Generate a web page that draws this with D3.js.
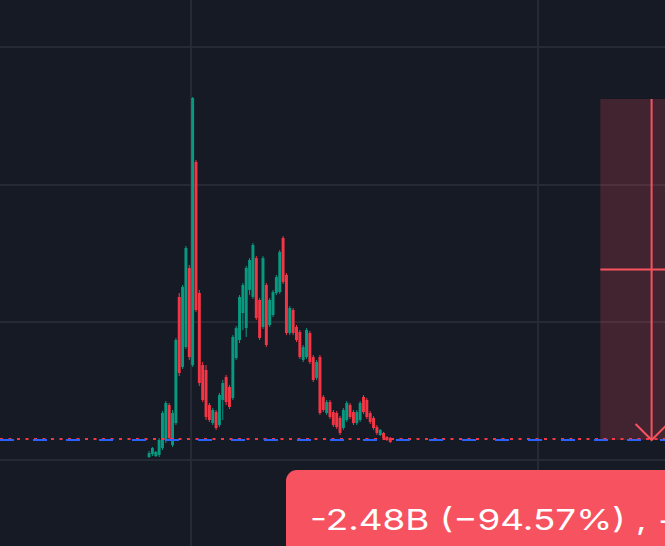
<!DOCTYPE html>
<html><head><meta charset="utf-8">
<script src="https://cdn.jsdelivr.net/npm/d3@7"></script>
<style>html,body{margin:0;padding:0;background:#161a25;overflow:hidden}</style>
</head><body><svg id="c" width="665" height="546"></svg>
<script>
// ---- data (prices in billions) ----
const opens  = [.018,.040,.025,.033,.084,.142,.396,.105,.265,1.182, .673,.818,1.393,.687,2.164,1.211,.687,.651,.396,.265, .345,.251,.433,.600,.527,.447,.738,.869,1.065,.956, 1.233,1.182,1.465,1.160,.964,1.269,.978,1.051,1.211,1.218, 1.611,1.342,.920,1.087,.964,.927,.724,.745,.920,.745, .593,.745,.455,.338,.418,.345,.338,.302,.229,.287, .396,.345,.265,.287,.455,.433,.338,.302,.236,.178, .193,.164,.156];
const highs  = [.062,.091,.062,.156,.353,.425,.411,.360,.884,1.211, 1.269,1.553,1.415,2.636,2.178,1.233,.709,.687,.411,.375, .360,.484,.578,.615,.542,.905,.971,1.196,1.284,1.407, 1.465,1.575,1.480,1.175,1.480,1.284,1.175,1.233,1.342,1.524, 1.625,1.356,1.116,1.102,.978,.942,.833,.956,.935,.760, .724,.760,.469,.433,.433,.360,.353,.316,.375,.425, .411,.360,.360,.425,.469,.447,.353,.316,.251,.222, .200,.171,.164];
const lows   = [.011,.025,.018,.018,.069,.120,.142,.091,.251,.607, .658,.804,.724,.673,1.073,.535,.418,.287,.273,.251, .215,.236,.287,.396,.367,.433,.724,.847,.942,.891, 1.196,1.167,1.015,.869,.949,.818,.964,1.036,1.196,1.204, 1.276,.905,.905,.905,.855,.731,.709,.731,.695,.564, .578,.324,.345,.324,.295,.236,.222,.178,.215,.273, .295,.251,.251,.273,.331,.295,.258,.215,.178,.171, .149,.135,.120];
const closes = [.047,.084,.055,.142,.338,.411,.156,.338,.869,.629, 1.255,1.538,.745,2.629,1.087,.556,.433,.309,.287,.360, .229,.469,.556,.418,.382,.891,.956,1.182,1.269,1.393, 1.451,1.560,1.029,.884,1.465,.833,1.160,1.218,1.327,1.509, 1.291,.920,1.102,.920,.869,.745,.818,.942,.709,.578, .709,.338,.360,.418,.309,.251,.236,.193,.360,.411, .309,.265,.345,.411,.345,.309,.273,.229,.193,.215, .156,.142,.127];
const barIndex = d3.range(opens.length);
const priceTicks = [0, 1, 2, 3];
const timeTicks = [12.6, 116.2];
const lastPrice = 0.142;
const markPrice = 0.150;
const measureFrom = 2.622, measureTo = 0.142;
const measureStart = 134.7, measureEnd = 165.3;
const measureLabel = "-2.48B (\u221294.57%) , \u2212";

// ---- scales ----
const W = 665, H = 546;
const x = d3.scaleLinear().domain([-44.5, 154]).range([0, W]);
const y = d3.scaleLinear().domain([0, 3]).range([459.5, 47]);
const step = x(1) - x(0);
const bw = step * 0.88;

const svg = d3.select("#c");
svg.append("rect").attr("width", W).attr("height", H).attr("fill", "#161a25");

// grid
const grid = svg.append("g").attr("stroke", "#262a35").attr("stroke-width", 2);
grid.selectAll("line.h").data(priceTicks).join("line").attr("class","h")
  .attr("x1", 0).attr("x2", W).attr("y1", d => Math.round(y(d))).attr("y2", d => Math.round(y(d)));
grid.selectAll("line.v").data(timeTicks).join("line").attr("class","v")
  .attr("y1", 0).attr("y2", H).attr("x1", d => Math.round(x(d))).attr("x2", d => Math.round(x(d)));

// candles
const up = "#089981", down = "#f23645";
const cg = svg.append("g");
cg.selectAll("line").data(barIndex).join("line")
  .attr("x1", i => x(i)).attr("x2", i => x(i))
  .attr("y1", i => y(highs[i])).attr("y2", i => y(lows[i]))
  .attr("stroke", i => closes[i] >= opens[i] ? up : down).attr("stroke-width", 1);
cg.selectAll("rect").data(barIndex).join("rect")
  .attr("x", i => x(i) - bw / 2).attr("width", bw)
  .attr("y", i => y(Math.max(opens[i], closes[i])))
  .attr("height", i => Math.max(1, Math.abs(y(opens[i]) - y(closes[i]))))
  .attr("fill", i => closes[i] >= opens[i] ? up : down);

// price lines
svg.append("line").attr("x1", 0).attr("x2", W).attr("y1", y(markPrice)).attr("y2", y(markPrice))
  .attr("stroke", "#f23645").attr("stroke-width", 2).attr("stroke-dasharray", "3,5.5");
svg.append("line").attr("x1", 0).attr("x2", W).attr("y1", y(lastPrice)).attr("y2", y(lastPrice))
  .attr("stroke", "#2962ff").attr("stroke-width", 2).attr("stroke-dasharray", "14,19");

// measure tool
const mx0 = x(measureStart), mx1 = x(measureEnd), mxc = (mx0 + mx1) / 2;
const my0 = y(measureFrom), my1 = y(measureTo);
svg.append("rect").attr("x", mx0).attr("y", my0).attr("width", mx1 - mx0).attr("height", my1 - my0)
  .attr("fill", "#f7525f").attr("fill-opacity", 0.2);
const red = "#f7525f";
svg.append("line").attr("x1", mx0).attr("x2", mx1).attr("y1", (my0 + my1) / 2).attr("y2", (my0 + my1) / 2)
  .attr("stroke", red).attr("stroke-width", 2);
svg.append("line").attr("x1", mxc).attr("x2", mxc).attr("y1", my0).attr("y2", my1)
  .attr("stroke", red).attr("stroke-width", 2);
svg.append("path").attr("d", `M${mxc - 16},${my1 - 16}L${mxc},${my1}L${mxc + 16},${my1 - 16}`)
  .attr("fill", "none").attr("stroke", red).attr("stroke-width", 2);

// label
svg.append("rect").attr("x", 286).attr("y", 470).attr("width", 420).attr("height", 120)
  .attr("rx", 11).attr("fill", red);
svg.append("text").attr("transform", "translate(310,530) scale(1.27,1)").attr("fill", "#ffffff")
  .attr("font-family", "Inter, 'Noto Sans', sans-serif").attr("font-size", 29)
  .text(measureLabel);
</script></body></html>
